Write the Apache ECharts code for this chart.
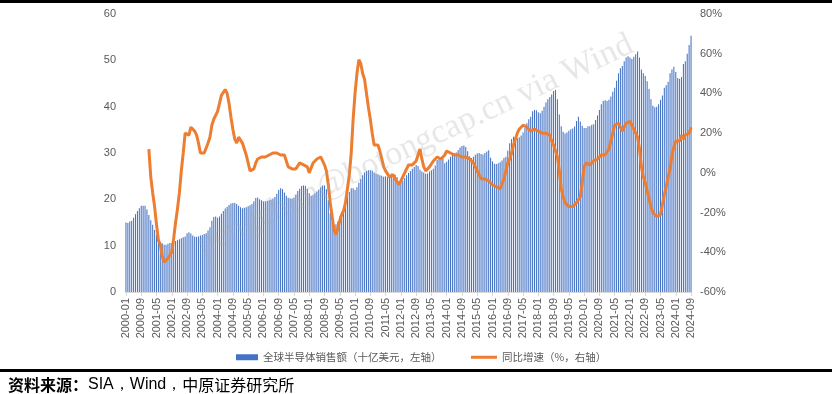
<!DOCTYPE html>
<html>
<head>
<meta charset="utf-8">
<script src="https://cdn.jsdelivr.net/npm/echarts@6/dist/echarts.min.js"></script>
<style>
html,body{margin:0;padding:0;background:#fff;}
#chart{width:832px;height:394px;}
</style>
</head>
<body>
<div id="chart"></div>
<script>
// Month labels 2000-01 .. 2024-09
var startYear = 2000, endYear = 2024, endMonth = 9;
var categories = [];
for (var y = startYear; y <= endYear; y++) {
  for (var m = 1; m <= 12; m++) {
    if (y === endYear && m > endMonth) break;
    categories.push(y + '-' + (m < 10 ? '0' + m : m));
  }
}

// Global semiconductor sales (billion USD, left axis), one row per year
var sales = [
  15.0, 14.9, 15.2, 15.4, 16.0, 16.8, 17.5, 18.1, 18.6, 18.6, 18.6, 17.8, // 2000
  16.6, 15.5, 14.5, 13.4, 12.3, 11.2, 10.7, 10.5, 10.2, 10.2, 10.4, 10.6, // 2001
  10.5, 10.7, 11.0, 11.2, 11.4, 11.6, 11.8, 12.0, 12.7, 12.9, 12.6, 12.2, // 2002
  11.9, 11.9, 12.0, 12.2, 12.3, 12.5, 12.7, 13.3, 14.0, 15.4, 16.2, 16.3, // 2003
  16.0, 16.3, 16.9, 17.5, 18.0, 18.4, 18.8, 19.1, 19.2, 19.2, 19.0, 18.6, // 2004
  18.3, 18.1, 18.2, 18.3, 18.5, 18.7, 19.0, 19.6, 20.3, 20.4, 20.0, 19.8, // 2005
  19.6, 19.6, 19.7, 19.8, 19.9, 20.2, 20.5, 21.2, 22.0, 22.4, 22.2, 21.5, // 2006
  20.8, 20.3, 20.2, 20.2, 20.4, 21.0, 21.8, 22.3, 22.9, 23.0, 22.9, 22.3, // 2007
  21.3, 20.8, 21.0, 21.3, 21.7, 22.1, 22.6, 23.0, 23.0, 22.2, 19.8, 17.0, // 2008
  15.0, 14.4, 14.6, 15.2, 16.3, 17.3, 18.2, 19.4, 20.6, 21.6, 22.4, 22.4, // 2009
  22.0, 22.6, 23.6, 24.4, 25.2, 25.8, 26.1, 26.3, 26.3, 26.2, 25.8, 25.6, // 2010
  25.4, 25.2, 25.1, 24.9, 25.0, 24.8, 25.2, 25.6, 25.5, 25.3, 24.8, 23.9, // 2011
  23.6, 24.0, 24.6, 25.2, 25.7, 26.1, 26.6, 27.0, 27.4, 27.2, 26.4, 26.0, // 2012
  25.8, 25.5, 25.6, 26.0, 26.3, 26.6, 27.3, 28.5, 28.9, 29.0, 28.8, 27.8, // 2013
  28.1, 28.6, 29.2, 29.8, 30.0, 30.1, 30.6, 31.2, 31.5, 31.6, 31.3, 30.4, // 2014
  29.3, 28.9, 29.2, 29.6, 29.9, 30.0, 29.8, 29.7, 30.0, 30.3, 30.6, 29.0, // 2015
  28.2, 27.7, 27.6, 27.8, 28.0, 28.4, 28.9, 29.2, 30.5, 32.1, 33.0, 33.5, // 2016
  33.0, 33.2, 33.4, 33.8, 34.4, 35.4, 36.4, 37.3, 37.8, 39.0, 39.3, 39.2, // 2017
  38.8, 38.6, 39.1, 40.0, 40.9, 41.6, 42.1, 42.6, 43.4, 43.6, 41.6, 38.3, // 2018
  35.8, 34.6, 34.2, 34.4, 34.8, 35.1, 35.3, 35.7, 36.9, 37.8, 36.8, 35.9, // 2019
  35.4, 35.4, 35.8, 35.8, 36.1, 36.2, 37.1, 38.1, 39.3, 40.5, 41.2, 41.4, // 2020
  41.2, 41.5, 42.2, 43.2, 44.1, 45.6, 47.2, 48.3, 48.8, 49.8, 50.6, 50.9, // 2021
  50.6, 50.3, 50.8, 51.3, 51.9, 50.6, 48.0, 47.2, 46.6, 45.5, 43.8, 41.6, // 2022
  40.2, 39.9, 40.0, 40.5, 41.5, 42.4, 44.1, 44.6, 45.4, 47.2, 48.0, 48.6, // 2023
  47.5, 46.2, 46.0, 46.4, 49.2, 49.8, 51.4, 53.3, 55.3                    // 2024
];

// Year-over-year growth (%, right axis), one row per year
var yoy = [
  null, null, null, null, null, null, null, null, null, null, null, null, // 2000
  12, -2, -10, -17, -26, -34, -36, -42, -45, -44, -43, -43,               // 2001
  -40, -33, -25, -18, -10, 1, 10, 20, 20, 19, 23, 22,                     // 2002
  21, 19, 15, 10, 10, 10, 11, 15, 18, 24, 27, 28,                         // 2003
  31, 35, 39, 40, 42, 40, 35, 28, 22, 17, 15, 18,                         // 2004
  17, 15, 12, 9, 5, 1, 1, 2, 5, 7, 8, 8,                                  // 2005
  7, 8, 9, 9, 9, 10, 11, 10, 9, 9, 9, 9,                                  // 2006
  6, 3, 3, 2, 1, 2, 3, 5, 5, 4, 4, 3,                                     // 2007
  0, 1, 5, 6, 7, 8, 8, 7, 4, 1, -6, -15,                                  // 2008
  -22, -29, -31, -28, -24, -21, -19, -15, -8, -1, 10, 27,                 // 2009
  40, 50, 57, 55, 50, 47, 40, 33, 27, 20, 14, 13,                         // 2010
  14, 11, 7, 3, 1, 0, -2, -2, -1, -3, -4, -6,                             // 2011
  -4, -2, -1, 2, 4, 5, 4, 4, 6, 9, 12, 7,                                 // 2012
  3, 1, 1, 3, 4, 6, 7, 8, 8, 7, 7, 9,                                     // 2013
  11, 10, 10, 9, 9, 9, 9, 9, 8, 8, 8, 7,                                  // 2014
  7, 6, 5, 3, 1, -1, -3, -4, -3, -3, -4, -5,                              // 2015
  -6, -6, -7, -7, -8, -8, -3, 1, 5, 7, 10, 14,                            // 2016
  17, 20, 22, 23, 24, 24, 23, 22, 21, 21, 22, 22,                         // 2017
  21, 20, 20, 20, 20, 19, 19, 16, 14, 11, 8, 1,                           // 2018
  -8, -12, -15, -16, -17, -18, -17, -16, -15, -14, -12, -5,               // 2019
  3, 5, 4, 4, 5, 6, 6, 7, 8, 9, 9, 9,                                     // 2020
  10, 12, 16, 20, 24, 25, 25, 23, 21, 22, 25, 26,                         // 2021
  26, 26, 22, 20, 18, 12, 3, -2, -5, -9, -13, -17,                        // 2022
  -20, -21, -22, -22, -21, -16, -11, -7, -2, 2, 9, 13,                    // 2023
  16, 16, 16, 19, 17, 19, 20, 20, 23                                      // 2024
];

var leftTicks = { min: 0, max: 60, interval: 10 };
var rightTicks = { min: -60, max: 80, interval: 20 };
var seriesNames = ['全球半导体销售额（十亿美元，左轴）', '同比增速（%，右轴）'];
var sourceText = ['资料来源：', 'SIA，Wind，', '中原证券研究所'];
var watermark = 'pengchun@botongcap.cn via Wind';

var chart = echarts.init(document.getElementById('chart'), null, { renderer: 'canvas' });
var axisLabelStyle = { color: '#595959', fontSize: 11, fontFamily: 'Liberation Sans, Arial, sans-serif' };
var legendText = { color: '#595959', fontSize: 10.5, fontFamily: 'Noto Sans CJK SC, sans-serif' };

chart.setOption({
  animation: false,
  backgroundColor: '#ffffff',
  grid: { left: 125, right: 140, top: 14, bottom: 102, containLabel: false },
  legend: [
    {
      left: 231, top: 347, itemWidth: 22, itemHeight: 6, icon: 'rect',
      textStyle: legendText, data: [seriesNames[0]]
    },
    {
      left: 466, top: 347, itemWidth: 26, itemHeight: 3, icon: 'rect',
      textStyle: legendText, data: [seriesNames[1]]
    }
  ],
  xAxis: {
    type: 'category',
    data: categories,
    boundaryGap: true,
    axisLine: { show: true, lineStyle: { color: '#D9D9D9', width: 1 } },
    axisTick: { show: true, interval: 7, alignWithLabel: true, length: 4, lineStyle: { color: '#D9D9D9' } },
    axisLabel: Object.assign({ interval: 7, rotate: 90, margin: 6 }, axisLabelStyle),
    splitLine: { show: false }
  },
  yAxis: [
    {
      type: 'value', min: leftTicks.min, max: leftTicks.max, interval: leftTicks.interval,
      axisLine: { show: false }, axisTick: { show: false }, splitLine: { show: false },
      axisLabel: Object.assign({ margin: 9 }, axisLabelStyle)
    },
    {
      type: 'value', min: rightTicks.min, max: rightTicks.max, interval: rightTicks.interval,
      axisLine: { show: false }, axisTick: { show: false }, splitLine: { show: false },
      axisLabel: Object.assign({ margin: 8, formatter: '{value}%' }, axisLabelStyle)
    }
  ],
  series: [
    {
      name: seriesNames[0], type: 'bar', data: sales, yAxisIndex: 0,
      barCategoryGap: '45%',
      itemStyle: { color: '#4472C4' },
      z: 2
    },
    {
      name: seriesNames[1], type: 'line', data: yoy, yAxisIndex: 1,
      symbol: 'none', smooth: false, connectNulls: false,
      lineStyle: { color: '#ED7D31', width: 3 },
      itemStyle: { color: '#ED7D31' },
      z: 4
    }
  ],
  graphic: [
    {
      type: 'text', x: 415, y: 145, rotation: 0.44, z: 10, silent: true,
      style: {
        text: watermark, fill: 'rgba(170,170,170,0.28)',
        font: '34px "Liberation Serif", "DejaVu Serif", serif',
        align: 'center', verticalAlign: 'middle'
      }
    },
    { type: 'rect', shape: { x: 0, y: 0, width: 832, height: 3 }, style: { fill: '#000' }, z: 20 },
    { type: 'rect', shape: { x: 0, y: 369, width: 832, height: 3 }, style: { fill: '#000' }, z: 20 },
    {
      type: 'text', x: 8, y: 385, z: 20,
      style: {
        text: '{a|' + sourceText[0] + '}{b|' + sourceText[1] + '}{c|' + sourceText[2] + '}',
        verticalAlign: 'middle',
        rich: {
          a: { fontSize: 16, fontWeight: 'bold', fill: '#000', fontFamily: 'Noto Sans CJK SC, sans-serif' },
          b: { fontSize: 16, fill: '#000', fontFamily: 'Liberation Sans, Arial, sans-serif' },
          c: { fontSize: 16, fill: '#000', fontFamily: 'Noto Sans CJK SC, sans-serif' }
        }
      }
    }
  ]
});
</script>
</body>
</html>
